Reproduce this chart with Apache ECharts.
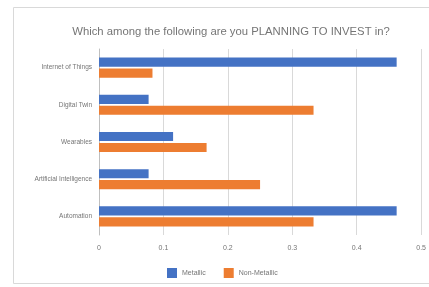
<!DOCTYPE html>
<html>
<head>
<meta charset="utf-8">
<script src="https://cdn.jsdelivr.net/npm/echarts@6/dist/echarts.min.js"></script>
<style>
  html, body { margin: 0; padding: 0; background: #fff; }
  #main { width: 429px; height: 287px; }
</style>
</head>
<body>
<div id="main"></div>
<script>
var categories = ['Internet of Things', 'Digital Twin', 'Wearables', 'Artificial Intelligence', 'Automation'];
var metallic = [0.462, 0.077, 0.115, 0.077, 0.462];
var nonMetallic = [0.083, 0.333, 0.167, 0.25, 0.333];
var xTicks = [0, 0.1, 0.2, 0.3, 0.4, 0.5];

var chart = echarts.init(document.getElementById('main'));

var option = {
  animation: false,
  title: {
    text: 'Which among the following are you PLANNING TO INVEST in?',
    left: 226,
    top: 21,
    textAlign: 'center',
    textStyle: { fontSize: 11.3, fontWeight: 'normal', color: '#757575', fontFamily: 'Liberation Sans' }
  },
  graphic: [{
    type: 'rect',
    shape: { x: 13.5, y: 7.5, width: 440, height: 276 },
    style: { fill: 'none', stroke: '#d9d9d9', lineWidth: 1 },
    silent: true
  }],
  legend: {
    data: ['Metallic', 'Non-Metallic'],
    left: 162,
    top: 263,
    itemWidth: 10,
    itemHeight: 10,
    itemGap: 18,
    icon: 'rect',
    textStyle: { fontSize: 7, color: '#757575', fontFamily: 'Liberation Sans' }
  },
  grid: { left: 99, right: 5, top: 49, bottom: 52, containLabel: false },
  xAxis: {
    type: 'value',
    min: xTicks[0],
    max: xTicks[xTicks.length - 1],
    interval: 0.1,
    axisLine: { show: false },
    axisTick: { show: false },
    axisLabel: { fontSize: 7, color: '#757575', margin: 10, fontFamily: 'Liberation Sans' },
    splitLine: { lineStyle: { color: '#d9d9d9' } }
  },
  yAxis: {
    type: 'category',
    data: categories,
    inverse: true,
    axisLine: { lineStyle: { color: '#bfbfbf' } },
    axisTick: { show: false },
    axisLabel: { fontSize: 6.5, color: '#757575', margin: 7, fontFamily: 'Liberation Sans' }
  },
  series: [{
    name: 'Metallic',
    type: 'bar',
    data: metallic,
    barGap: '20%',
    barCategoryGap: '46%',
    itemStyle: { color: '#4472C4' }
  }, {
    name: 'Non-Metallic',
    type: 'bar',
    data: nonMetallic,
    itemStyle: { color: '#ED7D31' }
  }]
};

chart.setOption(option);
</script>
</body>
</html>
